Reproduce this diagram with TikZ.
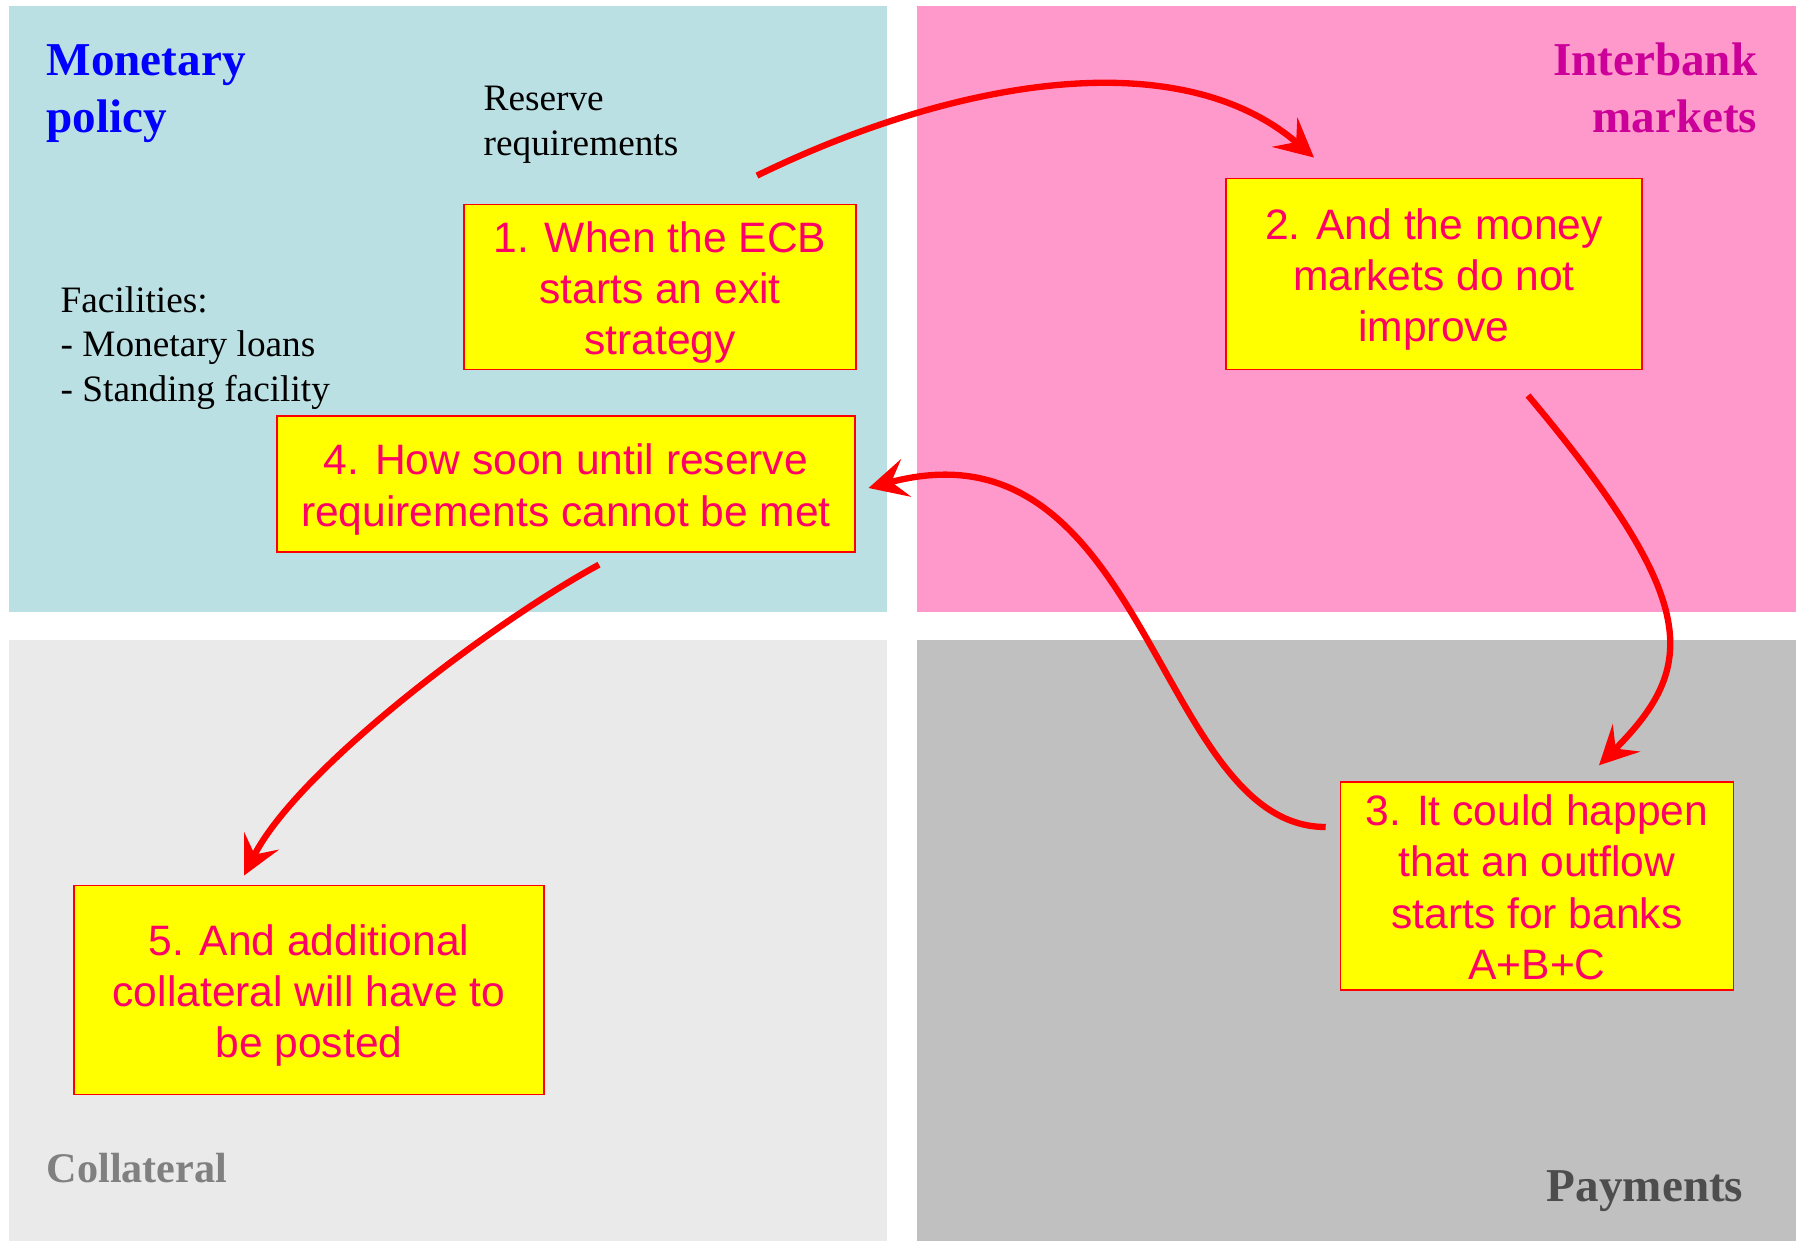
\documentclass[tikz,border=0pt]{standalone}
\usepackage{fontspec}
\setmainfont{Liberation Serif}
\newfontfamily\boxfont{Liberation Sans}
\usepackage{tikz}
\usetikzlibrary{positioning}
\usetikzlibrary{calc}
\usetikzlibrary{arrows.meta}
\definecolor{qblue}{RGB}{187,224,227}
\definecolor{qpink}{RGB}{255,153,204}
\definecolor{qlight}{RGB}{234,234,234}
\definecolor{qgrey}{RGB}{192,192,192}
\definecolor{boxfill}{RGB}{255,255,0}
\definecolor{boxtext}{RGB}{255,0,102}
\definecolor{headpink}{RGB}{204,0,153}
\definecolor{headgrey}{RGB}{77,77,77}
\newcommand{\boxlines}[1]{\rule{0pt}{12pt}#1\rule[-2.6pt]{0pt}{2.6pt}}
\tikzset{stepbox/.style={rectangle, draw=red, line width=0.5pt, fill=boxfill, text=boxtext, align=center, inner sep=0pt, font=\boxfont\fontsize{12.1}{14.6}\selectfont}}
\tikzset{heading/.style={inner sep=0pt, font=\bfseries\fontsize{13.4}{16.2}\selectfont}}
\tikzset{note/.style={inner sep=0pt, align=left, anchor=west, font=\fontsize{10.6}{12.7}\selectfont}}
\tikzset{flow/.style={draw=red, line width=1.8pt, -{Stealth[length=11pt, width=11pt, inset=4.3pt]}}}

\begin{document}
\begin{tikzpicture}[x=0.01cm, y=-0.01cm]
    \useasboundingbox (0,0) rectangle (1799,1242);
    % the four fields
    \fill[qblue] (9,6) rectangle (887,612);
    \fill[qpink] (917,6) rectangle (1796,612);
    \fill[qlight] (9,640) rectangle (887,1241);
    \fill[qgrey] (917,640) rectangle (1796,1241);

    \node [heading, text=blue, align=left, anchor=west](monetary) at (46,94){Monetary\\policy};
    \node [heading, text=headpink, align=right, anchor=east](interbank) at (1758,88){Interbank\\markets};
    \node [heading, text=gray, anchor=west, font=\bfseries\fontsize{12}{14}\selectfont](collateral) at (46,1168){Collateral};
    \node [heading, text=headgrey, anchor=east](payments) at (1744,1191){Payments};

    \node [note](reserve) at (483,125){Reserve\\requirements};
    \node [note](facilities) at (60,348){Facilities:\\- Monetary loans\\- Standing facility};

    \node [stepbox, minimum width=3.925cm, minimum height=1.65cm](ecb) at (660,287){\boxlines{1. When the ECB\\starts an exit\\strategy}};
    \node [stepbox, minimum width=4.155cm, minimum height=1.91cm](money) at (1434,274){\boxlines{2. And the money\\markets do not\\improve}};
    \node [stepbox, minimum width=3.926cm, minimum height=2.075cm](outflow) at (1537,886){\boxlines{3. It could happen\\that an outflow\\starts for banks\\A+B+C}};
    \node [stepbox, minimum width=5.77cm, minimum height=1.355cm](soon) at (566,484){\boxlines{4. How soon until reserve\\requirements cannot be met}};
    \node [stepbox, minimum width=4.69cm, minimum height=2.09cm](additional) at (309,990){\boxlines{5. And additional\\collateral will have to\\be posted}};

    \draw[flow] ($(ecb.north)+(97,-28)$) .. controls +(199,-97) and +(-134,-116) .. ($(money.north)+(-120,-20)$);
    \draw[flow] ($(money.south)+(94,25)$) .. controls +(174,207) and +(99,-99) .. ($(outflow.north)+(62,-16)$);
    \draw[flow] ($(outflow.west)+(-14,-59)$) .. controls +(-170,0) and +(280,-75) .. ($(soon.east)+(13,4)$);
    \draw[flow] ($(soon.south)+(33,12)$) .. controls +(-105,57) and +(54,-107) .. ($(additional.north)+(-65,-9)$);
\end{tikzpicture}
\end{document}
